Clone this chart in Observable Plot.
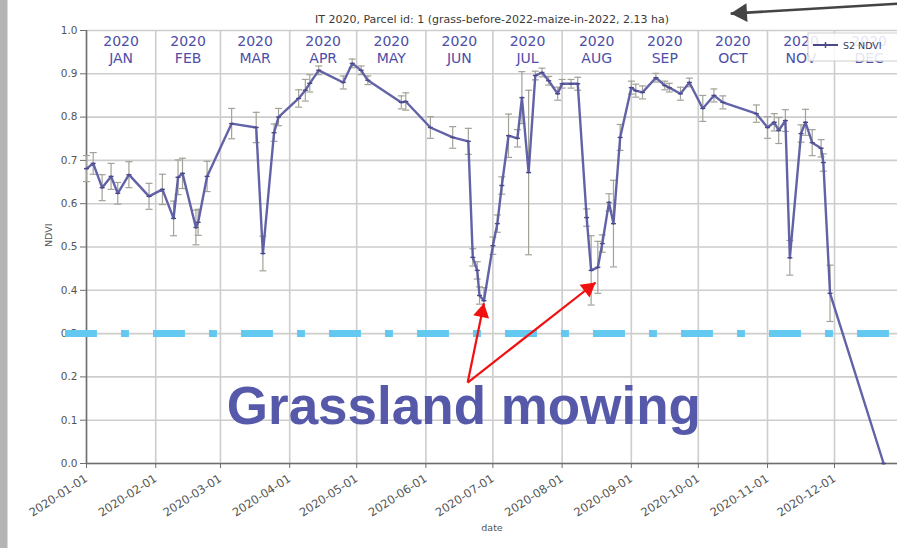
<!DOCTYPE html>
<html><head><meta charset="utf-8">
<script src="https://cdn.jsdelivr.net/npm/d3@7"></script>
<script src="https://cdn.jsdelivr.net/npm/@observablehq/plot@0.6"></script>
<style>body{margin:0;background:#fff}</style>
</head><body><div id="chart"></div>
<script>
// ---------- data ----------
const dates = ["2020-01-01","2020-01-04","2020-01-08","2020-01-12","2020-01-15","2020-01-20","2020-01-29",
"2020-02-04","2020-02-09","2020-02-11","2020-02-13","2020-02-19","2020-02-20","2020-02-24",
"2020-03-06","2020-03-17","2020-03-20","2020-03-25","2020-03-27",
"2020-04-05","2020-04-08","2020-04-10","2020-04-14","2020-04-25","2020-04-29",
"2020-05-03","2020-05-06","2020-05-21","2020-05-23",
"2020-06-03","2020-06-13","2020-06-20","2020-06-22","2020-06-24","2020-06-25","2020-06-27",
"2020-07-01","2020-07-03","2020-07-05","2020-07-08","2020-07-12","2020-07-14","2020-07-17","2020-07-20","2020-07-23","2020-07-26","2020-07-30",
"2020-08-01","2020-08-05","2020-08-08","2020-08-12","2020-08-14","2020-08-17","2020-08-19","2020-08-22","2020-08-24","2020-08-27",
"2020-09-01","2020-09-03","2020-09-06","2020-09-12","2020-09-16","2020-09-18","2020-09-23","2020-09-27",
"2020-10-03","2020-10-08","2020-10-12","2020-10-27",
"2020-11-01","2020-11-04","2020-11-06","2020-11-09","2020-11-11","2020-11-16","2020-11-18","2020-11-21","2020-11-25","2020-11-26","2020-11-29",
"2020-12-23"];
const ndvi = [0.681,0.693,0.637,0.663,0.624,0.667,0.617,
0.633,0.566,0.661,0.670,0.545,0.557,0.663,
0.785,0.776,0.485,0.764,0.800,
0.843,0.862,0.878,0.908,0.880,0.924,
0.908,0.885,0.834,0.836,
0.776,0.753,0.744,0.476,0.446,0.388,0.376,
0.503,0.554,0.642,0.757,0.751,0.845,0.672,0.896,0.903,0.884,0.854,
0.877,0.877,0.877,0.568,0.446,0.453,0.508,0.603,0.554,0.753,
0.868,0.861,0.857,0.891,0.873,0.868,0.854,0.880,
0.820,0.850,0.834,0.808,
0.776,0.788,0.769,0.792,0.475,0.762,0.788,0.741,0.728,0.695,0.393,
0.000];
const ndviErr = [0.03,0.025,0.03,0.03,0.025,0.03,0.03,
0.035,0.04,0.04,0.035,0.04,0.03,0.035,
0.035,0.035,0.04,0.02,0.02,
0.02,0.025,0.02,0.01,0.015,0.01,
0.01,0.01,0.015,0.02,
0.025,0.025,0.03,0.02,0.02,0.02,0.03,
0.02,0.02,0.02,0.05,0.02,0.06,0.19,0.01,0.01,0.01,0.015,
0.01,0.01,0.015,0.02,0.08,0.06,0.02,0.02,0.1,0.03,
0.015,0.015,0.015,0.01,0.01,0.01,0.015,0.01,
0.03,0.015,0.015,0.02,
0.025,0.02,0.03,0.025,0.04,0.02,0.03,0.03,0.02,0.02,0.065,
0];
const monthStarts = ["2020-01-01","2020-02-01","2020-03-01","2020-04-01","2020-05-01","2020-06-01",
"2020-07-01","2020-08-01","2020-09-01","2020-10-01","2020-11-01","2020-12-01"];
const monthNames = ["JAN","FEB","MAR","APR","MAY","JUN","JUL","AUG","SEP","OCT","NOV","DEC"];
const yTicks = [0,0.1,0.2,0.3,0.4,0.5,0.6,0.7,0.8,0.9,1.0];
const titleText = "IT 2020, Parcel id: 1 (grass-before-2022-maize-in-2022, 2.13 ha)";
const legendLabel = "S2 NDVI";
const annotationText = "Grassland mowing";
const annotationPos = {date: "2020-06-18", value: 0.092};
const mowingOrigin = {date: "2020-06-19T17:00Z", value: 0.187};
const mowingTargets = [{date: "2020-06-27", value: 0.37}, {date: "2020-08-16", value: 0.418}];
const threshold = 0.3;
const thresholdFrom = "2019-12-22T14:00Z";
const titleArrow = {from: {date: "2020-12-29T05:00Z", value: 1.062}, to: {date: "2020-10-15T12:00Z", value: 1.039}};
const xDomain = ["2020-01-01", "2020-12-29T05:00Z"];

// ---------- build ----------
const P = d3.isoParse;
const W = 897, H = 548, mL = 86, mR = 0, mT = 30, mB = 85;
const data = dates.map((d, i) => ({date: P(d), v: ndvi[i], e: ndviErr[i]}));
const bars = data.filter(d => d.e > 0);
const ticksX = monthStarts.map(P);
const months = monthStarts.map((d, i) => {
  const s = P(d), n = d3.utcMonth.offset(s, 1);
  return {mid: new Date((+s + +n) / 2), label: "2020\n" + monthNames[i]};
});
const xs = Plot.scale({x: {type: "utc", domain: xDomain.map(P), range: [mL, W - mR]}});
const ys = Plot.scale({y: {type: "linear", domain: [0, 1], range: [H - mB, mT]}});

const capSymbol = {draw(ctx, size) { const r = Math.sqrt(size / Math.PI); ctx.moveTo(-r, 0); ctx.lineTo(r, 0); }};

// arrows: line + filled triangle head
function arrowSpec(from, to, color, width, headR) {
  const x1 = xs.apply(P(from.date)), y1 = ys.apply(from.value);
  const x2 = xs.apply(P(to.date)), y2 = ys.apply(to.value);
  const theta = Math.atan2(x2 - x1, -(y2 - y1)); // clockwise from up
  const tip = headR * 1.55; // distance from centroid to tip for d3 triangle
  return [
    Plot.link([0], {x1: () => P(from.date), y1: () => from.value, x2: () => P(to.date), y2: () => to.value,
      stroke: color, strokeWidth: width}),
    Plot.dot([0], {x: () => P(to.date), y: () => to.value, symbol: "triangle", r: headR, fill: color, stroke: "none",
      rotate: theta * 180 / Math.PI, dx: -tip * Math.sin(theta), dy: tip * Math.cos(theta)})
  ];
}

const gridColor = "#cdcdcd", spine = "#6e6e6e", tickText = "#555";

const chart = Plot.plot({
  width: W, height: H, marginLeft: mL, marginRight: mR, marginTop: mT, marginBottom: mB,
  style: {background: "linear-gradient(to right, #b4b4b4 0px, #b4b4b4 7px, #ffffff 8px)",
          fontFamily: "DejaVu Sans", overflow: "visible"},
  x: {type: "utc", domain: xDomain.map(P)},
  y: {domain: [0, 1]},
  marks: [
    Plot.gridX(ticksX, {stroke: gridColor, strokeOpacity: 1, strokeWidth: 1.6}),
    Plot.gridY(yTicks, {stroke: gridColor, strokeOpacity: 1, strokeWidth: 1.6}),
    Plot.axisY(yTicks, {tickFormat: d3.format(".1f"), tickSize: 6, tickPadding: 3, fontSize: 10.5,
      color: tickText, stroke: spine, label: null}),
    Plot.axisX(ticksX, {tickFormat: d3.utcFormat("%Y-%m-%d"), tickRotate: -33, tickSize: 5, tickPadding: 9,
      fontSize: 11.5, color: tickText, stroke: spine, label: null}),
    Plot.ruleX([P(xDomain[0])], {stroke: spine, strokeWidth: 1.5}),
    Plot.ruleY([0], {stroke: spine, strokeWidth: 1.5}),
    Plot.text(["NDVI"], {frameAnchor: "left", dx: -38, rotate: -90, fontSize: 9.5, fill: tickText}),
    Plot.text(["date"], {frameAnchor: "bottom", dy: 67, fontSize: 9.5, fill: tickText}),
    Plot.text([titleText], {frameAnchor: "top", dy: -15, fontSize: 11, fill: "#3a3a3a"}),
    Plot.text(months, {x: "mid", text: "label", frameAnchor: "top", lineAnchor: "top", dy: 3,
      fontSize: 14, lineHeight: 1.22, fill: "#4e4ea8"}),
    // error bars
    Plot.ruleX(bars, {x: "date", y1: d => d.v - d.e, y2: d => d.v + d.e, stroke: "#a2a298", strokeWidth: 1.2}),
    Plot.dot(bars, {x: "date", y: d => d.v + d.e, symbol: capSymbol, r: 3.5, stroke: "#a2a298", strokeWidth: 1.2}),
    Plot.dot(bars, {x: "date", y: d => d.v - d.e, symbol: capSymbol, r: 3.5, stroke: "#a2a298", strokeWidth: 1.2}),
    // series
    Plot.line(data, {x: "date", y: "v", stroke: "#5a5aa2", strokeWidth: 2.4, strokeOpacity: 0.95}),
    Plot.dot(data, {x: "date", y: "v", symbol: capSymbol, r: 2.5, stroke: "#4a4a88", strokeWidth: 1.4}),
    // threshold
    Plot.ruleY([threshold], {x1: () => P(thresholdFrom), x2: () => P(xDomain[1]), stroke: "#63c9f1",
      strokeWidth: 7, strokeDasharray: "32,24,8,24"}),
    // annotation
    ...mowingTargets.flatMap(t => arrowSpec(mowingOrigin, t, "#f01010", 2.2, 6)),
    Plot.text([annotationText], {x: () => P(annotationPos.date), y: () => annotationPos.value, lineAnchor: "bottom",
      fontSize: 53, fontWeight: "bold", fontFamily: "Liberation Sans, Arial, sans-serif", fill: "#5659a9"}),
    ...arrowSpec(titleArrow.from, titleArrow.to, "#444", 2.6, 7)
  ]
});

// legend box (top right), semi-transparent like matplotlib
const svg = d3.select(chart);
const lg = svg.append("g").attr("transform", "translate(808,33)").attr("text-anchor", "start");
lg.append("rect").attr("width", 100).attr("height", 28).attr("fill", "#fff").attr("fill-opacity", 0.85)
  .attr("stroke", "#cfcfcf").attr("stroke-width", 1);
lg.append("line").attr("x1", 5).attr("x2", 30).attr("y1", 12).attr("y2", 12).attr("stroke", "#4a4a8a").attr("stroke-width", 2);
lg.append("line").attr("x1", 17.5).attr("x2", 17.5).attr("y1", 9).attr("y2", 15).attr("stroke", "#4a4a8a").attr("stroke-width", 1.5);
lg.append("text").attr("x", 35).attr("y", 15.5).attr("font-size", 9.5).attr("fill", "#3a3a5a")
  .attr("font-family", "DejaVu Sans").text(legendLabel);
document.getElementById("chart").appendChild(chart);
</script></body></html>
